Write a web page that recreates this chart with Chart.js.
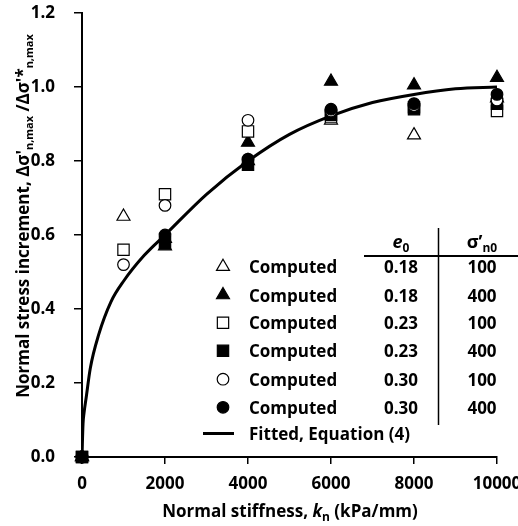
<!DOCTYPE html>
<html>
<head>
<meta charset="utf-8">
<script src="https://cdn.jsdelivr.net/npm/chart.js@4.4.0/dist/chart.umd.min.js"></script>
<style>
  html, body { margin: 0; padding: 0; background: #fff; }
</style>
</head>
<body>
<canvas id="stressChart" width="518" height="526"></canvas>
<script>
// Normal stiffness kn (kPa/mm)
const stiffness = [0, 1000, 2000, 4000, 6000, 8000, 10000];

// Computed normalised stress increment, one array per case (e0 / sigma'n0)
const e018s100 = [0, 0.65, 0.59, 0.80, 0.91, 0.87, 0.97];
const e018s400 = [0, null, 0.57, 0.85, 1.015, 1.005, 1.025];
const e023s100 = [0, 0.56, 0.71, 0.88, 0.92, 0.945, 0.935];
const e023s400 = [0, null, 0.58, 0.79, 0.925, 0.94, 0.955];
const e030s100 = [0, 0.52, 0.68, 0.91, 0.935, 0.95, 0.965];
const e030s400 = [0, null, 0.60, 0.805, 0.94, 0.955, 0.98];

// Fitted curve, Equation (4)
const fitK = [0, 25, 50, 100, 200, 400, 700, 1000, 1500, 2000, 3000, 4000, 5000, 6000, 7000, 8000, 9000, 10000];
const fitR = [0, 0.09, 0.12, 0.16, 0.24, 0.33, 0.42, 0.475, 0.545, 0.60, 0.71, 0.80, 0.872, 0.922, 0.958, 0.98, 0.995, 1.0];

// legend table columns
const e0Labels = ['0.18', '0.18', '0.23', '0.23', '0.30', '0.30'];
const sigmaLabels = ['100', '400', '100', '400', '100', '400'];

const xTicks = [0, 2000, 4000, 6000, 8000, 10000];
const yTicks = [0, 0.2, 0.4, 0.6, 0.8, 1.0, 1.2];

const FAMILY = '"Open Sans", Lato, sans-serif';
const fnt = (size, italic) => (italic ? 'italic ' : '') + 'bold ' + size + 'px ' + FAMILY;

const toPoints = (xs, ys) => xs.map((x, i) => ({ x: x, y: ys[i] })).filter(p => p.y !== null);

const markers = [
    { data: e018s100, style: 'triangle', fill: '#fff', r: 7.5, order: 6 },
    { data: e018s400, style: 'triangle', fill: '#000', r: 7.5, order: 5 },
    { data: e023s100, style: 'rect', fill: '#fff', r: 8, order: 4 },
    { data: e023s400, style: 'rect', fill: '#000', r: 8, order: 3 },
    { data: e030s100, style: 'circle', fill: '#fff', r: 5.8, order: 2 },
    { data: e030s400, style: 'circle', fill: '#000', r: 5.8, order: 1 }
];

const datasets = markers.map(m => ({
    label: 'Computed',
    data: toPoints(stiffness, m.data),
    pointStyle: m.style,
    pointRadius: m.r,
    pointBackgroundColor: m.fill,
    pointBorderColor: '#000',
    pointBorderWidth: 1.2,
    showLine: false,
    clip: false,
    order: m.order
}));

datasets.push({
    label: 'Fitted, Equation (4)',
    data: toPoints(fitK, fitR),
    showLine: true,
    borderColor: '#000',
    borderWidth: 3,
    pointRadius: 0,
    cubicInterpolationMode: 'monotone',
    order: 7
});

// draw a row of text pieces (for subscripts / italics)
function drawRuns(ctx, runs, x, y, align) {
    let total = 0;
    runs.forEach(r => { ctx.font = fnt(r.size, r.italic); total += ctx.measureText(r.text).width; });
    let cx = align === 'center' ? x - total / 2 : x;
    runs.forEach(r => {
        ctx.font = fnt(r.size, r.italic);
        ctx.fillText(r.text, cx, y + (r.dy || 0));
        cx += ctx.measureText(r.text).width;
    });
}

const annotations = {
    id: 'annotations',
    afterDraw(chart) {
        const ctx = chart.ctx;
        ctx.save();
        ctx.fillStyle = '#000';
        ctx.strokeStyle = '#000';
        ctx.textBaseline = 'alphabetic';
        ctx.textAlign = 'left';

        // Y axis title
        ctx.save();
        ctx.translate(29, 216);
        ctx.rotate(-Math.PI / 2);
        drawRuns(ctx, [
            { text: 'Normal stress increment, \u0394\u03c3\'', size: 17 },
            { text: 'n,max', size: 11, dy: 4 },
            { text: ' /\u0394\u03c3\'*', size: 17 },
            { text: 'n,max', size: 11, dy: 4 }
        ], 0, 0, 'center');
        ctx.restore();

        // X axis title
        drawRuns(ctx, [
            { text: 'Normal stiffness, ', size: 17 },
            { text: 'k', size: 17, italic: true },
            { text: 'n', size: 12, dy: 4 },
            { text: ' (kPa/mm)', size: 17 }
        ], 290, 517, 'center');

        // Legend table header
        drawRuns(ctx, [
            { text: 'e', size: 18, italic: true },
            { text: '0', size: 12, dy: 4 }
        ], 401, 248, 'center');
        drawRuns(ctx, [
            { text: '\u03c3\u2019', size: 18 },
            { text: 'n0', size: 12, dy: 4 }
        ], 482, 248, 'center');

        ctx.lineWidth = 2;
        ctx.beginPath();
        ctx.moveTo(364, 256);
        ctx.lineTo(518, 256);
        ctx.stroke();
        ctx.lineWidth = 1.5;
        ctx.beginPath();
        ctx.moveTo(438.5, 228);
        ctx.lineTo(438.5, 425);
        ctx.stroke();

        const rowY = [266.7, 295, 322.8, 350.8, 379.2, 407.3];
        markers.forEach((m, i) => {
            const y = rowY[i];
            ctx.fillStyle = m.fill;
            ctx.strokeStyle = '#000';
            ctx.lineWidth = 1.2;
            Chart.helpers.drawPoint(ctx, { pointStyle: m.style, radius: m.r, rotation: 0, borderWidth: 1.2 }, 223, y);
            ctx.fillStyle = '#000';
            ctx.font = fnt(17);
            ctx.textAlign = 'left';
            ctx.fillText('Computed', 249, y + 6.5);
            ctx.textAlign = 'center';
            ctx.fillText(e0Labels[i], 401, y + 6.5);
            ctx.fillText(sigmaLabels[i], 482, y + 6.5);
        });

        // fitted line legend entry
        ctx.lineWidth = 3;
        ctx.beginPath();
        ctx.moveTo(203, 433.5);
        ctx.lineTo(234, 433.5);
        ctx.stroke();
        ctx.textAlign = 'left';
        ctx.font = fnt(17);
        ctx.fillText('Fitted, Equation (4)', 249, 433 + 6.5);

        ctx.restore();
    }
};

const ctx = document.getElementById('stressChart').getContext('2d');
const stressChart = new Chart(ctx, {
    type: 'scatter',
    data: { datasets: datasets },
    options: {
        responsive: false,
        animation: false,
        layout: { padding: { top: 13, right: 21, left: 0, bottom: 0 } },
        scales: {
            x: {
                type: 'linear',
                min: 0,
                max: 10000,
                afterBuildTicks: s => { s.ticks = xTicks.map(v => ({ value: v })); },
                afterFit: s => { s.height = 69; s.paddingLeft = 0; s.paddingRight = 0; },
                ticks: {
                    color: '#000',
                    font: { family: FAMILY, size: 17, weight: 'bold' },
                    padding: 10,
                    maxRotation: 0,
                    callback: v => String(v)
                },
                grid: { drawOnChartArea: false, drawTicks: true, tickLength: 7, color: '#000', lineWidth: 1.5 },
                border: { color: '#000', width: 2 }
            },
            y: {
                min: 0,
                max: 1.2,
                afterBuildTicks: s => { s.ticks = yTicks.map(v => ({ value: v })); },
                afterFit: s => { s.width = 82; s.paddingTop = 0; s.paddingBottom = 0; },
                ticks: {
                    color: '#000',
                    font: { family: FAMILY, size: 17, weight: 'bold' },
                    padding: 19,
                    callback: v => v.toFixed(1)
                },
                grid: { drawOnChartArea: false, drawTicks: true, tickLength: 8, color: '#000', lineWidth: 1.5 },
                border: { color: '#000', width: 2 }
            }
        },
        plugins: {
            legend: { display: false },
            tooltip: { enabled: false }
        }
    },
    plugins: [annotations]
});
</script>
</body>
</html>
